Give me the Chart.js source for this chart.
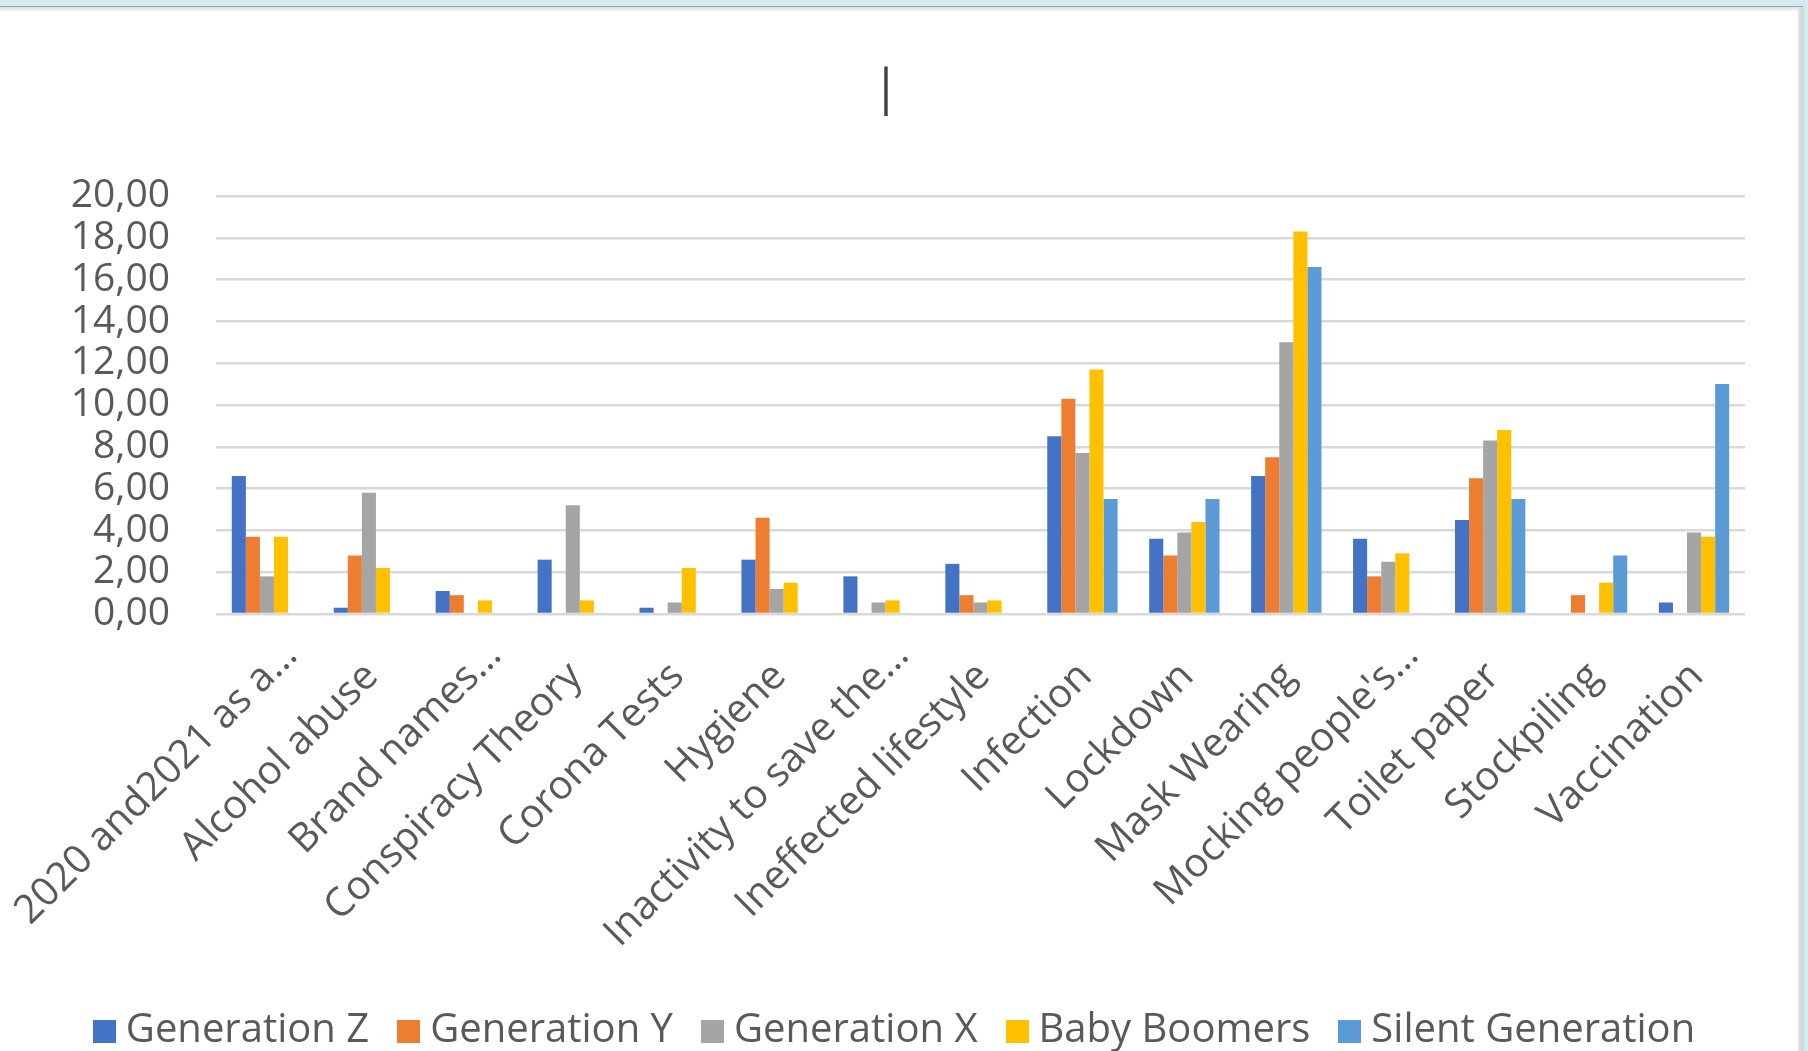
<!DOCTYPE html>
<html>
<head>
<meta charset="utf-8">
<script src="https://cdn.jsdelivr.net/npm/chart.js@4/dist/chart.umd.min.js"></script>
<style>
  html, body { margin: 0; padding: 0; }
  body { width: 1808px; height: 1051px; overflow: hidden; position: relative; background: #ffffff; }
  #bandTop { position: absolute; left: 0; top: 0; width: 1808px; height: 6px; background: #d6e9f0; }
  #lineTop { position: absolute; left: 0; top: 6px; width: 1803px; height: 1px; background: #93a6ae; }
  #shadeTop { position: absolute; left: 0; top: 7px; width: 1798px; height: 5px; background: linear-gradient(#dcdcdc, #ffffff); }
  #shadeRight { position: absolute; left: 1798px; top: 7px; width: 5px; height: 1044px; background: linear-gradient(90deg, #e6e6e6, #d2d2d2); }
  #bandRight { position: absolute; left: 1803px; top: 0; width: 5px; height: 1051px; background: linear-gradient(90deg, #c9e6ea, #d8eef2); }
  #wrap { position: absolute; left: 0; top: 12px; width: 1798px; height: 1049px; }
</style>
</head>
<body>
<div id="bandTop"></div>
<div id="lineTop"></div>
<div id="shadeTop"></div>
<div id="shadeRight"></div>
<div id="bandRight"></div>
<div id="wrap"><canvas id="chart"></canvas></div>
<script>
// Topics mentioned per generation (share of answers, %)
const categories = [
  '2020 and2021 as a\u2026', 'Alcohol abuse', 'Brand names\u2026', 'Conspiracy Theory',
  'Corona Tests', 'Hygiene', 'Inactivity to save the\u2026', 'Ineffected lifestyle',
  'Infection', 'Lockdown', 'Mask Wearing', "Mocking people's\u2026",
  'Toilet paper', 'Stockpiling', 'Vaccination'
];
const seriesNames = ['Generation Z', 'Generation Y', 'Generation X', 'Baby Boomers', 'Silent Generation'];
const seriesColors = ['#4472C4', '#ED7D31', '#A5A5A5', '#FFC000', '#5B9BD5'];

const genZ     = [6.6, 0.3, 1.1, 2.6, 0.3, 2.6, 1.8, 2.4, 8.5, 3.6, 6.6, 3.6, 4.5, null, 0.55];
const genY     = [3.7, 2.8, 0.9, null, null, 4.6, null, 0.9, 10.3, 2.8, 7.5, 1.8, 6.5, 0.9, null];
const genX     = [1.8, 5.8, null, 5.2, 0.55, 1.2, 0.55, 0.55, 7.7, 3.9, 13.0, 2.5, 8.3, null, 3.9];
const boomers  = [3.7, 2.2, 0.65, 0.65, 2.2, 1.5, 0.65, 0.65, 11.7, 4.4, 18.3, 2.9, 8.8, 1.5, 3.7];
const silent   = [null, null, null, null, null, null, null, null, 5.5, 5.5, 16.6, null, 5.5, 2.8, 11.0];

const yTickLabels = ['0,00', '2,00', '4,00', '6,00', '8,00', '10,00', '12,00', '14,00', '16,00', '18,00', '20,00'];

const seriesValues = [genZ, genY, genX, boomers, silent];
const textColor = '#595959';
const fontFamily = '"Open Sans", "Liberation Sans", sans-serif';

// Square legend swatches drawn as small canvases, so the label text can sit close to them
function swatch(color, size) {
  const c = document.createElement('canvas');
  c.width = size;
  c.height = size;
  const g = c.getContext('2d');
  g.fillStyle = color;
  g.fillRect(0, 0, size, size);
  return c;
}
const swatches = seriesColors.map(col => swatch(col, 23));

// Truncated category names hang a little further out along their slant
const truncatedLabelShift = {
  id: 'truncatedLabelShift',
  beforeDraw(chart) {
    const scale = chart.scales.x;
    const items = scale.getLabelItems(chart.chartArea);
    items.forEach(item => {
      if (!item._shifted && String(item.label).endsWith('\u2026')) {
        const [tx, ty] = item.options.translation;
        item.options.translation = [tx + 21, ty - 21];
        item._shifted = true;
      }
    });
  }
};

new Chart(document.getElementById('chart'), {
  type: 'bar',
  data: {
    labels: categories,
    datasets: seriesNames.map((name, i) => ({
      label: name,
      data: seriesValues[i],
      backgroundColor: seriesColors[i],
      borderWidth: 0,
      categoryPercentage: 0.69,
      barPercentage: 1.0
    }))
  },
  plugins: [truncatedLabelShift],
  options: {
    responsive: true,
    maintainAspectRatio: false,
    animation: false,
    layout: { padding: 0 },
    plugins: {
      tooltip: { enabled: false },
      title: {
        display: true,
        text: '|  ',
        color: '#404040',
        font: { family: fontFamily, size: 50, weight: 'normal' },
        padding: { top: 48, bottom: 76 }
      },
      legend: {
        position: 'bottom',
        labels: {
          color: textColor,
          font: { family: fontFamily, size: 40 },
          usePointStyle: true,
          boxWidth: 3,
          boxHeight: 23,
          padding: 38,
          generateLabels: (chart) => {
            const items = Chart.defaults.plugins.legend.labels.generateLabels(chart);
            items.forEach((item, i) => { item.pointStyle = swatches[i]; });
            return items;
          }
        }
      }
    },
    scales: {
      x: {
        grid: { display: false },
        border: { display: false },
        ticks: {
          color: textColor,
          font: { family: fontFamily, size: 40 },
          minRotation: 45,
          maxRotation: 45,
          autoSkip: false,
          padding: 31,
          labelOffset: 3
        },
        afterFit: (scale) => {
          scale.height = 359;
          scale.paddingLeft = 0;
          scale.paddingRight = 0;
        }
      },
      y: {
        min: 0,
        max: 20,
        border: { display: false },
        grid: { color: '#d9d9d9', lineWidth: 2.5, drawTicks: false },
        ticks: {
          stepSize: 2,
          autoSkip: false,
          color: textColor,
          font: { family: fontFamily, size: 39 },
          padding: 46,
          callback: (value, index) => yTickLabels[index]
        },
        afterFit: (scale) => { scale.width = 216; }
      },
      yRight: {
        position: 'right',
        display: true,
        grid: { display: false },
        border: { display: false },
        ticks: { display: false },
        afterFit: (scale) => { scale.width = 53; }
      }
    }
  }
});
</script>
</body>
</html>
